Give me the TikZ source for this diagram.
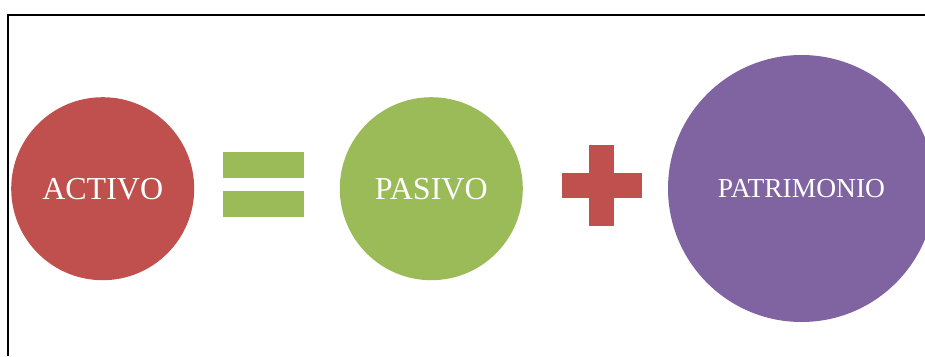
\documentclass[tikz,border=0pt]{standalone}
\usepackage{fontspec}
\setmainfont{Liberation Serif}
\definecolor{actred}{HTML}{C0504D}
\definecolor{pasgreen}{HTML}{9BBB59}
\definecolor{patpurple}{HTML}{8064A2}
\begin{document}
\begin{tikzpicture}[x=1pt,y=-1pt,
  term/.style={circle,draw=none,inner sep=0pt,text=white}]
\useasboundingbox (0,0) rectangle (925,356);
\clip (0,0) rectangle (925,356);
% frame
\draw[line width=2.2pt,black] (8,356) -- (8,15) -- (925,15);
% terms
\node[term,fill=actred,minimum size=183pt,font=\fontsize{32}{36}\selectfont] (activo) at (102.7,188.7) {ACTIVO};
\node[term,fill=pasgreen,minimum size=183pt,font=\fontsize{32}{36}\selectfont] (pasivo) at (431.3,188.7) {PASIVO};
\node[term,fill=patpurple,minimum size=267pt,font=\fontsize{27.5}{31}\selectfont] (patrimonio) at (801.5,188.5) {PATRIMONIO};
% equals sign
\fill[pasgreen] (223,152) rectangle (304,178);
\fill[pasgreen] (223,191) rectangle (304,217);
% plus sign
\fill[actred] (562,173) rectangle (642,198);
\fill[actred] (589,145) rectangle (614,226);
\end{tikzpicture}
\end{document}
